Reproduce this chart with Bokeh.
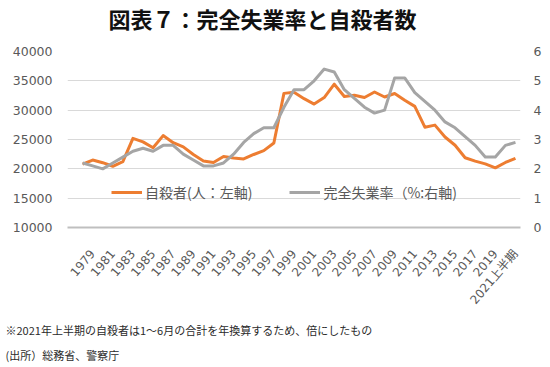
import math
from bokeh.plotting import figure
from bokeh.models import Range1d, LinearAxis, FixedTicker, Legend, LegendItem, Title
from bokeh.embed import file_html
from bokeh.resources import INLINE

# ---- data ----
years = [str(y) for y in range(1978, 2021)] + ["2021上半期"]
suicides = [20788, 21503, 21048, 20434, 21228, 25202, 24596, 23599, 25667, 24460,
            23742, 22436, 21346, 21084, 22104, 21851, 21679, 22445, 23104, 24391,
            32863, 33048, 31957, 31042, 32143, 34427, 32325, 32552, 32155, 33093,
            32249, 32845, 31690, 30651, 27100, 27450, 25427, 24025, 21897, 21321,
            20840, 20169, 21081, 21800]
unemployment = [2.2, 2.1, 2.0, 2.2, 2.4, 2.6, 2.7, 2.6, 2.8, 2.8,
                2.5, 2.3, 2.1, 2.1, 2.2, 2.5, 2.9, 3.2, 3.4, 3.4,
                4.1, 4.7, 4.7, 5.0, 5.4, 5.3, 4.7, 4.4, 4.1, 3.9,
                4.0, 5.1, 5.1, 4.6, 4.3, 4.0, 3.6, 3.4, 3.1, 2.8,
                2.4, 2.4, 2.8, 2.9]
left_ticks = [10000, 15000, 20000, 25000, 30000, 35000, 40000]
right_ticks = [0, 1, 2, 3, 4, 5, 6]
title_text = "図表７：完全失業率と自殺者数"
label_suicide = "自殺者(人：左軸)"
label_unemp = "完全失業率（%:右軸)"
note1 = "※2021年上半期の自殺者は1～6月の合計を年換算するため、倍にしたもの"
note2 = "(出所）総務省、警察庁"

xs = list(range(len(years)))

TICK_COLOR = "#595959"
NUM_FONT = "DejaVu Sans"
JP_FONT = "Noto Sans CJK JP"

p = figure(width=550, height=367, output_backend="svg", toolbar_location=None,
           title=None,
           x_range=Range1d(-1.5, len(years) - 0.5), y_range=Range1d(10000, 40000),
           min_border_left=67, min_border_right=30, min_border_top=51,
           min_border_bottom=140)
p.outline_line_color = None
p.background_fill_color = "white"
p.border_fill_color = "white"

p.extra_y_ranges = {"rate": Range1d(0, 6)}

r1 = p.line(xs, suicides, line_color="#ED7D31", line_width=3, line_join="round")
r2 = p.line(xs, unemployment, y_range_name="rate", line_color="#A5A5A5", line_width=3,
            line_join="round")

# x axis
xa = p.xaxis[0]
xa.ticker = FixedTicker(ticks=list(range(1, len(years), 2)))
xa.major_label_overrides = {i: years[i] for i in range(1, len(years), 2)}
xa.major_label_orientation = math.radians(50)
xa.axis_line_color = "#BFBFBF"
xa.axis_line_width = 2
xa.major_tick_line_color = None
xa.minor_tick_line_color = None
xa.major_tick_out = 0
xa.major_tick_in = 0
xa.major_label_text_color = TICK_COLOR
xa.major_label_text_font = "DejaVu Sans, Noto Sans CJK JP"
xa.major_label_text_font_size = "12px"
xa.major_label_standoff = 24

# left axis
ya = p.yaxis[0]
ya.ticker = FixedTicker(ticks=left_ticks)
ya.axis_line_color = None
ya.major_tick_line_color = None
ya.minor_tick_line_color = None
ya.major_tick_out = 0
ya.major_tick_in = 0
ya.major_label_text_color = TICK_COLOR
ya.major_label_text_font = NUM_FONT
ya.major_label_text_font_size = "12.5px"
ya.major_label_standoff = 15

# right axis
ra = LinearAxis(y_range_name="rate", ticker=FixedTicker(ticks=right_ticks))
ra.axis_line_color = None
ra.major_tick_line_color = None
ra.minor_tick_line_color = None
ra.major_tick_out = 0
ra.major_tick_in = 0
ra.major_label_text_color = TICK_COLOR
ra.major_label_text_font = NUM_FONT
ra.major_label_text_font_size = "12.5px"
ra.major_label_standoff = 13
p.add_layout(ra, "right")

p.xgrid.visible = False
p.ygrid.grid_line_color = "#D9D9D9"
p.ygrid.grid_line_width = 1

legend = Legend(items=[LegendItem(label=label_suicide, renderers=[r1]),
                       LegendItem(label=label_unemp, renderers=[r2])],
                orientation="horizontal", location=(44, 25),
                padding=0, margin=0, spacing=37,
                glyph_width=31, glyph_height=20, label_height=20, label_standoff=3,
                border_line_color=None, background_fill_alpha=0,
                label_text_font=JP_FONT, label_text_font_size="14px",
                label_text_color=TICK_COLOR)
p.add_layout(legend, "center")

# spacer between frame and title (closest to the frame), then the title
p.add_layout(Title(text=" ", text_font_size="1px", standoff=13), "above")
p.add_layout(Title(text=title_text, align="left", offset=41, standoff=0,
                   vertical_align="top",
                   text_font=JP_FONT, text_font_size="22px", text_font_style="bold",
                   text_color="#111111"), "above")
p.add_layout(Title(text=note1, align="left", offset=-62, standoff=10,
                   text_font=JP_FONT, text_font_size="11px", text_font_style="normal",
                   text_color="#2b2b2b"), "below")
p.add_layout(Title(text=note2, align="left", offset=-62, standoff=5,
                   text_font=JP_FONT, text_font_size="11px", text_font_style="normal",
                   text_color="#2b2b2b"), "below")

open("out.html", "w").write(file_html(p, INLINE))
